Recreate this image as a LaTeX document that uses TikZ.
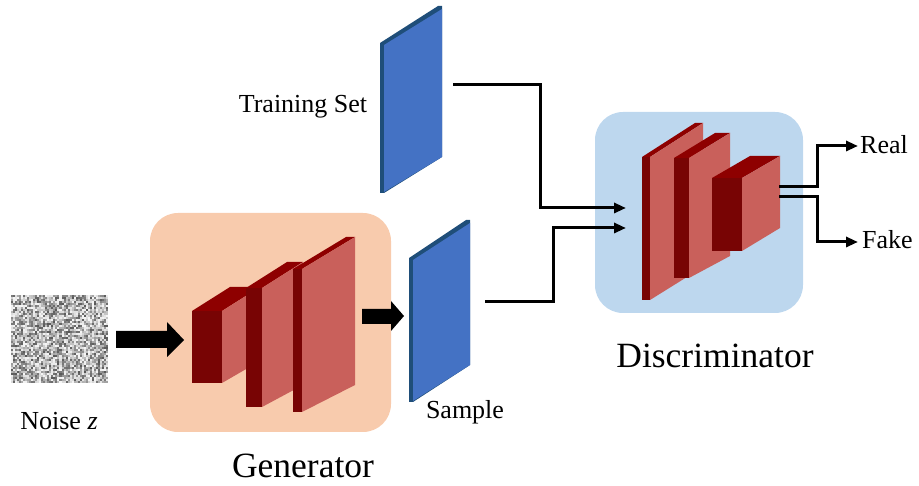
\documentclass[tikz,border=0pt]{standalone}
\usepackage{fontspec}
\setmainfont{Liberation Serif}
\usetikzlibrary{arrows.meta}

\definecolor{genbg}{HTML}{F8CBAD}
\definecolor{discbg}{HTML}{BDD7EE}
\definecolor{lyrtop}{HTML}{8E0000}
\definecolor{lyrfront}{HTML}{780404}
\definecolor{lyrside}{HTML}{C9605B}
\definecolor{panelface}{HTML}{4472C4}
\definecolor{paneledge}{HTML}{1F4E79}

\tikzset{
  stagebox/.style={rounded corners=28pt, draw=none},
  flow/.style={line width=3pt, -{Triangle[length=12pt,width=10pt]}},
  txt/.style={inner sep=0pt, anchor=base, font=\fontsize{26}{30}\selectfont},
  bigtxt/.style={inner sep=0pt, anchor=base, font=\fontsize{35.5}{40}\selectfont},
  fatarrow/.style={fill=black, draw=none},
}

% a convolution layer seen in perspective:
% front x0,y0,x1,y1 ; depth dx ; rise of top edge ; rise of bottom edge
\newcommand\cnnlayer[7]{%
  \fill[lyrtop] (#1,#2) -- (#3,#2) -- ({#3+#5},{#2+#6}) -- ({#1+#5},{#2+#6}) -- cycle;
  \fill[lyrside] (#3,#2) -- ({#3+#5},{#2+#6}) -- ({#3+#5},{#4+#7}) -- (#3,#4) -- cycle;
  \fill[lyrfront] (#1,#2) rectangle (#3,#4);
}

% a thin image plate: left x, top-left y, bottom-left y, width, rise
\newcommand\imgplate[5]{%
  \fill[paneledge] ({#1-4},{#2-1}) -- ({#1+#4-4},{#2-#5-3}) -- ({#1+#4},{#2-#5-3})
     -- ({#1+#4},{#3-#5}) -- (#1,{#3+1}) -- ({#1-4},{#3+1}) -- cycle;
  \fill[panelface] (#1,{#2+1}) -- ({#1+#4},{#2-#5}) -- ({#1+#4},{#3-#5}) -- (#1,#3) -- cycle;
}

\begin{document}
\begin{tikzpicture}[x=1pt,y=-1pt]
\useasboundingbox (0,0) rectangle (919,486);

% ---- background boxes
\fill[genbg, stagebox] (150,213) rectangle (391,432);
\fill[discbg, stagebox] (595,112) rectangle (803,313);

% ---- noise input
\pgfmathsetseed{17}
\fill[white!78!black] (11,295) rectangle (108,383);
\foreach \i in {0,...,47}{
  \foreach \j in {0,...,43}{
    \pgfmathsetmacro\g{int(97-62*rnd^1.4)}
    \fill[white!\g!black] ({11+\i*2.02},{295+\j*2.0}) rectangle ++(2.05,2.05);
  }
}
\node[txt] (noiselbl) at (59,430) {Noise {\itshape z}};

% ---- fat arrows
\fill[fatarrow] (116,331) -- (167,331) -- (167,322) -- (184,340) -- (167,357)
   -- (167,348) -- (116,348) -- cycle;
\fill[fatarrow] (362,309) -- (391,309) -- (391,301) -- (404,316) -- (391,331)
   -- (391,324) -- (362,324) -- cycle;

% ---- generator layers
\cnnlayer{192}{311}{222}{383}{38}{-24}{-22}
\cnnlayer{246}{288}{262}{407}{41}{-26}{-22}
\cnnlayer{293}{269}{302}{412}{53}{-32}{-27}
\node[bigtxt] (genlbl) at (303,477) {Generator};

% ---- image plates
\imgplate{384}{44}{192}{58}{35}
\node[txt] (trainlbl) at (303,113) {Training Set};
\imgplate{413}{259}{401}{57}{36}
\node[txt] (samplelbl) at (465,419) {Sample};

% ---- discriminator layers
\cnnlayer{642}{157}{650}{300}{53}{-34}{-33}
\cnnlayer{674}{158}{689}{278}{41}{-25}{-22}
\cnnlayer{712}{178}{742}{251}{38}{-22}{-23}
\node[bigtxt] (disclbl) at (715,368) {Discriminator};

% ---- connector end points
\coordinate (trainout) at (453,85);
\coordinate (sampleout) at (485,302);
\coordinate (discin1) at (626,208);
\coordinate (discin2) at (626,228);
\coordinate (discout1) at (779,187);
\coordinate (discout2) at (779,197);

\node[txt, anchor=base west] (real) at (860,154) {Real};
\node[txt, anchor=base west] (fake) at (862,249) {Fake};
\coordinate (realin) at (858,146);
\coordinate (fakein) at (858,242);

% ---- connectors
\draw[flow] (trainout) -- ++(87,0) |- (discin1);
\draw[flow] (sampleout) -- ++(68,0) |- (discin2);
\draw[flow] (discout1) -- ++(38,0) |- (realin);
\draw[flow] (discout2) -- ++(38,0) |- (fakein);
\end{tikzpicture}
\end{document}
